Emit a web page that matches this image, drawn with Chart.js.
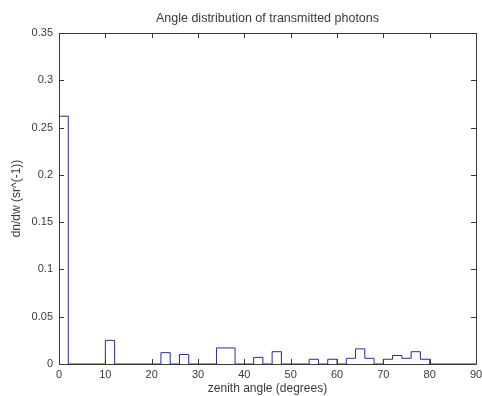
<!DOCTYPE html>
<html>
<head>
<meta charset="utf-8">
<script src="https://cdn.jsdelivr.net/npm/chart.js@4"></script>
<style>
  html, body { margin: 0; padding: 0; background: #fff; }
  #wrap { width: 482px; height: 396px; }
</style>
</head>
<body>
<div id="wrap"><canvas id="angles"></canvas></div>
<script>
// left edges of the 2-degree zenith bins
const binEdges = [0, 2, 4, 6, 8, 10, 12, 14, 16, 18, 20, 22, 24, 26, 28, 30, 32, 34, 36, 38, 40, 42,
  44, 46, 48, 50, 52, 54, 56, 58, 60, 62, 64, 66, 68, 70, 72, 74, 76, 78, 80, 82, 84, 86, 88];
const lastEdge = 90;
// dn/dw per bin
const density = [0.262, 0, 0, 0, 0, 0.025, 0, 0, 0, 0, 0, 0.012, 0, 0.010, 0, 0, 0, 0.017, 0.017, 0, 0, 0.007,
  0, 0.013, 0, 0, 0, 0.005, 0, 0.005, 0, 0.006, 0.016, 0.006, 0, 0.005, 0.009, 0.006, 0.013, 0.005,
  0, 0, 0, 0, 0];
const xTicks = [0, 10, 20, 30, 40, 50, 60, 70, 80, 90];
const yTicks = [0, 0.05, 0.1, 0.15, 0.2, 0.25, 0.3, 0.35];
const chartTitle = 'Angle distribution of transmitted photons';

const points = binEdges.map((x, i) => ({ x: x, y: density[i] }));
points.push({ x: lastEdge, y: 0 });

const family = "'Liberation Sans', Arial, sans-serif";
const tickFont = { family: family, size: 11 };
const labelFont = { family: family, size: 12 };
const ink = '#3a3a3a';

// box around the axes with ticks pointing inwards, title centred over the axes
const boxTicks = {
  id: 'boxTicks',
  afterDatasetsDraw(chart) {
    const { ctx, chartArea: a, scales } = chart;
    const len = 5;
    ctx.save();
    ctx.strokeStyle = ink;
    ctx.lineWidth = 1;
    ctx.beginPath();
    ctx.rect(a.left + 0.5, a.top + 0.5, a.right - a.left, a.bottom - a.top);
    xTicks.forEach(v => {
      const px = Math.round(scales.x.getPixelForValue(v)) + 0.5;
      ctx.moveTo(px, a.bottom); ctx.lineTo(px, a.bottom - len);
      ctx.moveTo(px, a.top); ctx.lineTo(px, a.top + len);
    });
    yTicks.forEach(v => {
      const py = Math.round(scales.y.getPixelForValue(v)) + 0.5;
      ctx.moveTo(a.left, py); ctx.lineTo(a.left + len, py);
      ctx.moveTo(a.right, py); ctx.lineTo(a.right - len, py);
    });
    ctx.stroke();

    ctx.fillStyle = ink;
    ctx.font = '12.5px ' + family;
    ctx.textAlign = 'center';
    ctx.textBaseline = 'middle';
    ctx.fillText(chartTitle, (a.left + a.right) / 2, a.top - 14);
    ctx.restore();
  }
};

new Chart(document.getElementById('angles'), {
  type: 'line',
  data: {
    datasets: [{
      data: points,
      stepped: true,
      borderColor: '#2a2aa0',
      borderWidth: 1,
      pointRadius: 0,
      fill: false
    }]
  },
  options: {
    responsive: true,
    maintainAspectRatio: false,
    animation: false,
    layout: { padding: { left: 0, right: 6, top: 33, bottom: 0 } },
    plugins: {
      legend: { display: false },
      tooltip: { enabled: false },
      title: { display: false }
    },
    scales: {
      x: {
        type: 'linear',
        min: 0,
        max: 90,
        afterBuildTicks: s => { s.ticks = xTicks.map(v => ({ value: v })); },
        afterFit: s => { s.height = 32; s.paddingLeft = 0; s.paddingRight = 0; },
        grid: { display: false, drawTicks: false },
        border: { display: false },
        ticks: { color: ink, font: tickFont, padding: 4, maxRotation: 0 },
        title: {
          display: true,
          text: 'zenith angle (degrees)',
          color: ink,
          font: labelFont,
          padding: { top: 1, bottom: 0 }
        }
      },
      y: {
        min: 0,
        max: 0.35,
        afterBuildTicks: s => { s.ticks = yTicks.map(v => ({ value: v })); },
        afterFit: s => { s.width = 59; s.paddingTop = 0; s.paddingBottom = 0; },
        grid: { display: false, drawTicks: false },
        border: { display: false },
        ticks: {
          color: ink,
          font: tickFont,
          padding: 6,
          callback: v => String(+v.toFixed(2))
        },
        title: {
          display: true,
          text: 'dn/dw (sr^(-1))',
          color: ink,
          font: labelFont,
          padding: { top: 9, bottom: 0 }
        }
      }
    }
  },
  plugins: [boxTicks]
});
</script>
</body>
</html>
